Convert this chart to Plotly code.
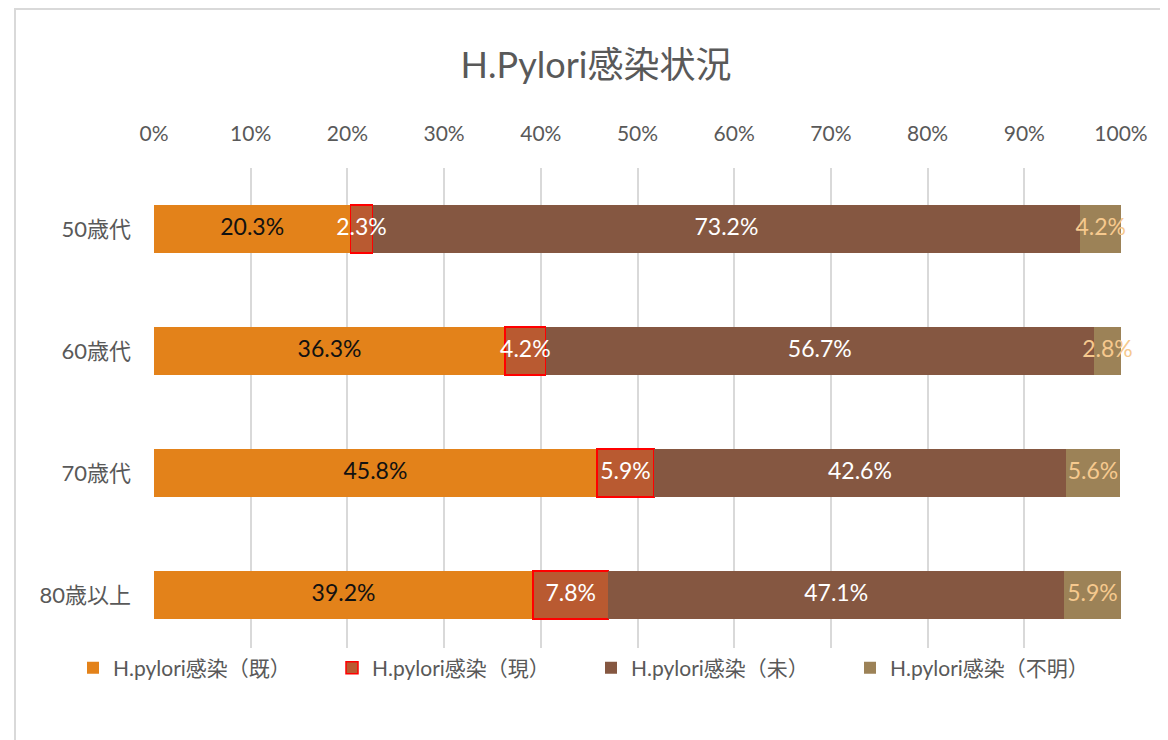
import numpy as np
import plotly.graph_objects as go

categories = ["50歳代", "60歳代", "70歳代", "80歳以上"]
series_names = ["H.pylori感染（既）", "H.pylori感染（現）", "H.pylori感染（未）", "H.pylori感染（不明）"]
kizon = [20.3, 36.3, 45.8, 39.2]
genzai = [2.3, 4.2, 5.9, 7.8]
mi = [73.2, 56.7, 42.6, 47.1]
fumei = [4.2, 2.8, 5.6, 5.9]
tick_vals = [0, 10, 20, 30, 40, 50, 60, 70, 80, 90, 100]
tick_text = [f"{v}%" for v in tick_vals]

colors = ["#E3821A", "#B95A31", "#855741", "#9C8257"]
text_colors = ["#111111", "#FFFFFF", "#FFFFFF", "#F6C98E"]
line_colors = [None, "#FF0000", None, None]

FONT = "Lato, 'Noto Sans CJK JP', sans-serif"

W, H = 1160, 732
L, R, T, B = 146, 47, 160, 84
PW, PH = W - L - R, H - T - B

all_series = [kizon, genzai, mi, fumei]

fig = go.Figure()
for name, vals, c, lc in zip(series_names, all_series, colors, line_colors):
    fig.add_trace(go.Bar(
        y=categories, x=vals, name=name, orientation="h",
        marker=dict(color=c, line=dict(color=lc if lc else c, width=1.5 if lc else 0)),
        hoverinfo="skip",
    ))

# data labels on top of all bars
cum = np.cumsum(np.array(all_series, dtype=float), axis=0)
starts = cum - np.array(all_series, dtype=float)
for i, (vals, tc) in enumerate(zip(all_series, text_colors)):
    mids = (starts[i] + cum[i]) / 2
    fig.add_trace(go.Scatter(
        x=mids, y=categories, mode="text",
        text=[f"{v:.1f}%" for v in vals],
        textposition="middle center",
        textfont=dict(color=tc, size=23, family=FONT),
        showlegend=False, hoverinfo="skip", cliponaxis=False,
    ))

fig.update_layout(
    width=W, height=H,
    barmode="stack", bargap=0.61,
    paper_bgcolor="white", plot_bgcolor="white",
    margin=dict(l=L, r=R, t=T, b=B, autoexpand=False),
    font=dict(family=FONT, color="#595959", size=20),
    title=dict(text="H.Pylori感染状況", x=588 / W, xanchor="center",
               y=1 - 57 / H, yanchor="middle",
               font=dict(size=36, color="#595959", family=FONT)),
    xaxis=dict(side="top", range=[0, 100], tickvals=tick_vals, ticktext=tick_text,
               showgrid=True, gridcolor="#D9D9D9", gridwidth=2, zeroline=False,
               showline=False, ticks="", ticklabelstandoff=22,
               tickfont=dict(size=21, color="#595959")),
    yaxis=dict(autorange="reversed", showgrid=False, showline=False, ticks="",
               ticklabelstandoff=22, tickfont=dict(size=22, color="#595959")),
    legend=dict(orientation="h", xref="paper", yref="paper",
                x=(65 - L) / PW, xanchor="left", y=(PH - (660 - T)) / PH, yanchor="middle",
                font=dict(size=21, color="#595959"), entrywidth=214,
                traceorder="normal", itemclick=False),
    shapes=[dict(type="rect", xref="paper", yref="paper",
                 x0=(7 - L) / PW, x1=1.3, y0=-0.4, y1=(H - B - 1) / PH,
                 line=dict(color="#D9D9D9", width=2), fillcolor="rgba(0,0,0,0)", layer="below")],
)

fig.write_html("out.html")
